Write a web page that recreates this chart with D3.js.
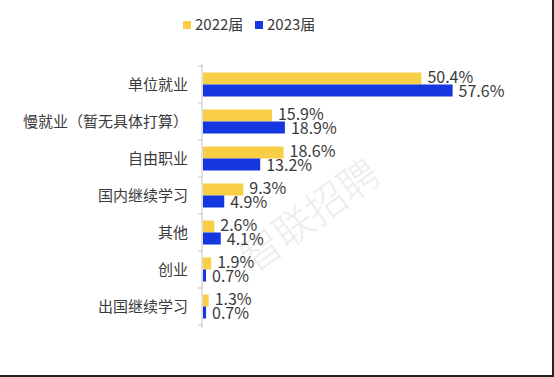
<!DOCTYPE html>
<html>
<head>
<meta charset="utf-8">
<script src="https://cdn.jsdelivr.net/npm/d3@7"></script>
<style>
  html, body { margin: 0; padding: 0; background: #fff; }
  svg { display: block; font-family: "Noto Sans CJK SC", "Noto Sans", sans-serif; }
</style>
</head>
<body>
<div id="chart"></div>
<script>
// data
const categories = ["单位就业", "慢就业（暂无具体打算）", "自由职业", "国内继续学习", "其他", "创业", "出国继续学习"];
const seriesNames = ["2022届", "2023届"];
const values2022 = [50.4, 15.9, 18.6, 9.3, 2.6, 1.9, 1.3];
const values2023 = [57.6, 18.9, 13.2, 4.9, 4.1, 0.7, 0.7];
const colors = ["#F8CE46", "#1537E0"];

const W = 554, H = 377;
const svg = d3.select("#chart").append("svg")
    .attr("width", W)
    .attr("height", H);

// watermark
svg.append("text")
    .attr("transform", "translate(312,218) rotate(-36)")
    .attr("text-anchor", "middle")
    .attr("dominant-baseline", "middle")
    .style("font-size", "40px")
    .style("font-weight", "300")
    .style("fill", "#ededed")
    .text("智联招聘");

const x = d3.scaleLinear()
    .domain([0, 60])
    .range([202, 462]);

const y = d3.scaleBand()
    .domain(categories)
    .range([66, 325]);

const inner = d3.scaleBand()
    .domain(seriesNames)
    .range([6.5, y.bandwidth() - 6.5]);

const rows = categories.map((c, i) => ({
    cat: c,
    vals: [
        { s: seriesNames[0], v: values2022[i], color: colors[0] },
        { s: seriesNames[1], v: values2023[i], color: colors[1] }
    ]
}));

// axis line + ticks
const axis = svg.append("g").attr("transform", `translate(${x(0)},0)`)
    .call(d3.axisLeft(y).tickSize(0).tickFormat(""));
axis.select(".domain").attr("stroke", "#c4c4c4").attr("d", `M0,${y.range()[0] - 2}V${y.range()[1] + 3}`);

svg.append("g").selectAll("line")
    .data(d3.range(categories.length + 1))
    .enter().append("line")
    .attr("x1", x(0) - 4).attr("x2", x(0))
    .attr("y1", i => y.range()[0] + i * y.step())
    .attr("y2", i => y.range()[0] + i * y.step())
    .attr("stroke", "#c4c4c4");

// category labels
svg.append("g").selectAll("text")
    .data(categories)
    .enter().append("text")
    .attr("x", 188)
    .attr("y", d => y(d) + y.bandwidth() / 2)
    .attr("dy", "0.35em")
    .attr("text-anchor", "end")
    .style("font-size", "15px")
    .style("fill", "#3a3a3a")
    .text(d => d);

// bars
const groups = svg.append("g").selectAll("g")
    .data(rows)
    .enter().append("g")
    .attr("transform", d => `translate(0,${y(d.cat)})`);

groups.selectAll("rect")
    .data(d => d.vals)
    .enter().append("rect")
    .attr("x", x(0) + 1)
    .attr("y", d => inner(d.s))
    .attr("width", d => x(d.v) - x(0))
    .attr("height", inner.bandwidth())
    .attr("fill", d => d.color);

groups.selectAll("text")
    .data(d => d.vals)
    .enter().append("text")
    .attr("x", d => x(d.v) + 7)
    .attr("y", (d, i) => inner(d.s) + inner.bandwidth() / 2 + (i ? 1 : -1))
    .attr("dy", "0.35em")
    .style("font-size", "16px")
    .style("fill", "#3a3a3a")
    .text(d => d.v.toFixed(1) + "%");

// legend
const legend = svg.append("g");
const legendX = [183, 255];
seriesNames.forEach((s, i) => {
    legend.append("rect")
        .attr("x", legendX[i]).attr("y", 21)
        .attr("width", 8).attr("height", 8)
        .attr("fill", colors[i]);
    legend.append("text")
        .attr("x", legendX[i] + 12).attr("y", 25)
        .attr("dy", "0.35em")
        .style("font-size", "15px")
        .style("fill", "#3a3a3a")
        .text(s);
});

// frame edges
svg.append("line").attr("x1", W - 1).attr("x2", W - 1).attr("y1", 0).attr("y2", H)
    .attr("stroke", "#222").attr("stroke-width", 2);
svg.append("line").attr("x1", 0).attr("x2", W).attr("y1", H - 1).attr("y2", H - 1)
    .attr("stroke", "#222").attr("stroke-width", 2);
</script>
</body>
</html>
